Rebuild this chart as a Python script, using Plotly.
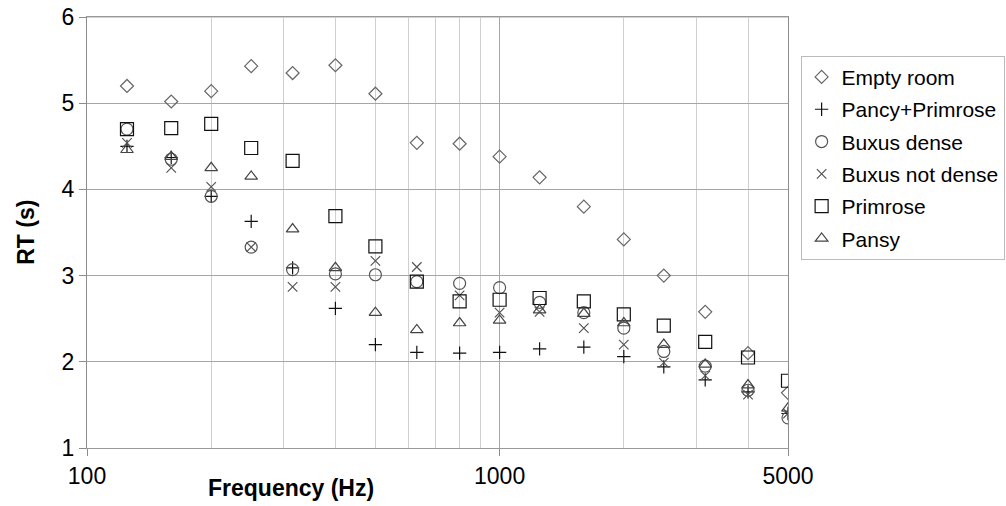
import plotly.graph_objects as go

freqs = [125, 160, 200, 250, 315, 400, 500, 630, 800, 1000, 1250, 1600, 2000, 2500, 3150, 4000, 5000]

empty_room = [5.20, 5.02, 5.14, 5.43, 5.35, 5.44, 5.11, 4.54, 4.53, 4.38, 4.14, 3.80, 3.42, 3.00, 2.58, 2.10, 1.64]
pancy_primrose = [4.50, 4.37, 3.92, 3.63, 3.09, 2.62, 2.20, 2.11, 2.10, 2.11, 2.15, 2.17, 2.06, 1.94, 1.79, 1.65, 1.40]
buxus_dense = [4.70, 4.35, 3.92, 3.33, 3.07, 3.02, 3.01, 2.93, 2.91, 2.86, 2.69, 2.57, 2.39, 2.12, 1.95, 1.67, 1.35]
buxus_not_dense = [4.54, 4.25, 4.03, 3.33, 2.87, 2.87, 3.17, 3.10, 2.77, 2.57, 2.58, 2.39, 2.20, 1.99, 1.84, 1.62, 1.40]
primrose = [4.70, 4.71, 4.76, 4.48, 4.33, 3.69, 3.34, 2.93, 2.70, 2.72, 2.74, 2.70, 2.55, 2.42, 2.23, 2.05, 1.78]
pansy = [4.46, 4.38, 4.25, 4.15, 3.54, 3.09, 2.57, 2.37, 2.45, 2.48, 2.60, 2.56, 2.45, 2.20, 1.97, 1.73, 1.46]

x_tick_vals = [100, 1000, 5000]
x_minor_vals = [200, 300, 400, 500, 600, 700, 800, 900, 2000, 3000, 4000]
y_tick_vals = [1, 2, 3, 4, 5, 6]

series = [
    ("Empty room", empty_room, "diamond-open", 10, "#666666"),
    ("Pancy+Primrose", pancy_primrose, "cross-thin-open", 9.5, "#111111"),
    ("Buxus dense", buxus_dense, "circle-open", 12, "#555555"),
    ("Buxus not dense", buxus_not_dense, "x-thin-open", 9.5, "#555555"),
    ("Primrose", primrose, "square-open", 13, "#111111"),
    ("Pansy", pansy, "triangle-up-open", 11, "#444444"),
]

FONT = "Arial, Liberation Sans, sans-serif"

fig = go.Figure()
for i, (name, vals, sym, size, col) in enumerate(series):
    fig.add_trace(go.Scatter(
        x=freqs, y=vals, mode="markers", name=name,
        legendgroup=f"g{i}",
        marker=dict(symbol=sym, size=size, color=col,
                    line=dict(color=col, width=1.2)),
    ))

fig.update_layout(
    width=1006, height=506,
    margin=dict(l=87, r=218, t=17, b=58, autoexpand=False),
    paper_bgcolor="white", plot_bgcolor="white",
    font=dict(family=FONT, size=23, color="black"),
    showlegend=True,
    legend=dict(
        x=1.018, y=0.91, xanchor="left", yanchor="top",
        bordercolor="#bbbbbb", borderwidth=1,
        font=dict(family=FONT, size=21, color="black"),
        traceorder="grouped", tracegroupgap=2,
        itemwidth=30,
    ),
    xaxis=dict(
        type="log", range=[2, 3.69897],
        tickmode="array", tickvals=x_tick_vals, ticktext=[str(v) for v in x_tick_vals],
        ticks="outside", ticklen=7, tickcolor="#8c8c8c",
        showgrid=True, gridcolor="#a6a6a6", gridwidth=1,
        minor=dict(tickmode="array", tickvals=x_minor_vals, showgrid=True,
                   gridcolor="#cfcfcf", gridwidth=1, ticks=""),
        showline=True, linecolor="#999999", linewidth=1, mirror=True,
        tickfont=dict(family=FONT, size=23, color="black"),
        ticklabeloverflow="allow",
        zeroline=False,
    ),
    yaxis=dict(
        range=[1, 6],
        tickmode="array", tickvals=y_tick_vals, ticktext=[str(v) for v in y_tick_vals],
        ticks="outside", ticklen=7, tickcolor="#8c8c8c",
        showgrid=True, gridcolor="#a6a6a6", gridwidth=1,
        showline=True, linecolor="#8c8c8c", linewidth=1, mirror=True,
        tickfont=dict(family=FONT, size=23, color="black"),
        ticklabeloverflow="allow",
        zeroline=False,
    ),
    shapes=[
        dict(type="line", xref="paper", yref="paper", x0=0, x1=1, y0=1, y1=1,
             line=dict(color="#a6a6a6", width=1), layer="below"),
    ],
    annotations=[
        dict(text="<b>Frequency (Hz)</b>", xref="paper", yref="paper",
             x=0.291, y=-0.092, xanchor="center", yanchor="middle",
             showarrow=False, font=dict(family=FONT, size=23, color="black")),
        dict(text="<b>RT (s)</b>", xref="paper", yref="paper",
             x=-0.088, y=0.5, xanchor="center", yanchor="middle", textangle=-90,
             showarrow=False, font=dict(family=FONT, size=23, color="black")),
    ],
)

fig.write_html("out.html",
               config={"displayModeBar": False},
               post_script="document.body.style.margin='0';document.body.style.overflow='hidden';")
